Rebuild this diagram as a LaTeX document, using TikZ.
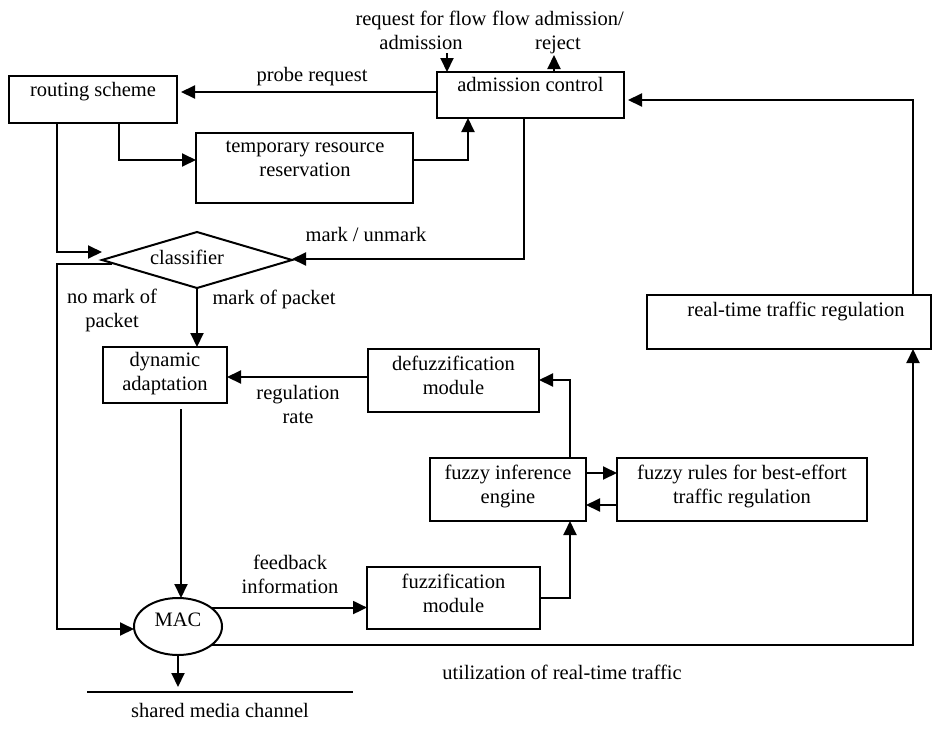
\documentclass[tikz,border=0pt]{standalone}
\usepackage{fontspec}
\setmainfont{Liberation Serif}
\usetikzlibrary{arrows.meta,shapes.geometric}
\begin{document}
\begin{tikzpicture}[x=1pt,y=-1pt,
  every node/.style={inner sep=0pt, outer sep=0pt},
  box/.style={draw, line width=2pt, rectangle},
  lbl/.style={font=\fontsize{20.5}{24}\selectfont, align=center},
  wire/.style={line width=2pt},
  arr/.style={wire, -{Triangle[length=14pt,width=13pt]}},
]
\useasboundingbox (0,0) rectangle (932,734);

% boxes
\node[box, minimum width=168pt, minimum height=47pt] (rs) at (93,99.5) {};
\node[lbl] (rsT) at (93,92) {\strut routing scheme};
\node[box, minimum width=187pt, minimum height=46pt] (adm) at (530.5,95) {};
\node[lbl] (admT) at (530.5,87) {\strut admission control};
\node[box, minimum width=217pt, minimum height=70pt] (trr) at (304.5,168) {};
\node[lbl] (trrT) at (305,160) {\strut temporary resource\\\strut reservation};
\node[draw, diamond, line width=2pt, minimum width=190pt, minimum height=56pt] (cls) at (197,260) {};
\node[lbl] (clsT) at (187,260) {\strut classifier};
\node[box, minimum width=124pt, minimum height=56pt] (dyn) at (165,375) {};
\node[lbl] (dynT) at (165,373.5) {\strut dynamic\\\strut adaptation};
\node[box, minimum width=171pt, minimum height=63pt] (def) at (453.5,380.5) {};
\node[lbl] (defT) at (453.5,378) {\strut defuzzification\\\strut module};
\node[box, minimum width=156pt, minimum height=63pt] (fie) at (508,489.5) {};
\node[lbl] (fieT) at (508,487) {\strut fuzzy inference\\\strut engine};
\node[box, minimum width=250pt, minimum height=63pt] (fr) at (742,489.5) {};
\node[lbl] (frT) at (742,487) {\strut fuzzy rules for best-effort\\\strut traffic regulation};
\node[box, minimum width=173pt, minimum height=62pt] (fuz) at (453.5,598) {};
\node[lbl] (fuzT) at (453.5,595.5) {\strut fuzzification\\\strut module};
\node[box, minimum width=284pt, minimum height=54pt] (rt) at (789,322) {};
\node[lbl] (rtT) at (796,312) {\strut real-time traffic regulation};
\node[draw, ellipse, line width=2pt, minimum width=88pt, minimum height=57pt] (mac) at (178,626.5) {};
\node[lbl] (macT) at (178,622) {\strut MAC};

% labels
\node[lbl] (reqT) at (421,32.5) {\strut request for flow\\\strut admission};
\node[lbl] (rejT) at (558,32.5) {\strut flow admission/\\\strut reject};
\node[lbl] (prT) at (312,77) {\strut probe request};
\node[lbl] (muT) at (366,237) {\strut mark / unmark};
\node[lbl] (mpT) at (274,300) {\strut mark of packet};
\node[lbl] (nmT) at (112,310.5) {\strut no mark of\\\strut packet};
\node[lbl] (rrT) at (298,406.5) {\strut regulation\\\strut rate};
\node[lbl] (fbT) at (290,577) {\strut feedback\\\strut information};
\node[lbl] (utT) at (562,675) {\strut utilization of real-time traffic};
\node[lbl] (smT) at (220,713) {\strut shared media channel};

% coordinates
\coordinate (sm1) at (87,692);
\coordinate (sm2) at (353,692);
\coordinate (rq) at (447,53);
\coordinate (rj) at (554,55);
\coordinate (nm) at (57,264);
\coordinate (dd) at ([xshift=16pt]dyn.south);

% connectors
\draw[arr, shorten >=4pt] ([yshift=3pt]adm.west) -- ([yshift=7.5pt]rs.east);
\draw[arr] ([xshift=48pt]rs.south west) |- ([yshift=8pt]cls.west);
\draw[arr] ([xshift=110pt]rs.south west) |- ([yshift=8pt]trr.west);
\draw[arr] ([yshift=8pt]trr.east) -| ([xshift=-62.5pt]adm.south);
\draw[arr] ([xshift=-6.5pt]adm.south) |- ([yshift=1pt]cls.east);
\draw[arr] (cls.south) -- ([xshift=32pt]dyn.north);
\draw[arr] ([xshift=10pt,yshift=-4pt]cls.west) -- (nm) |- ([yshift=-2.5pt]mac.west);
\draw[arr, shorten <=6pt] (dd) -- (dd |- mac.north);
\draw[arr] ([yshift=3.5pt]def.west) -- ([yshift=-2pt]dyn.east);
\draw[arr] ([xshift=62pt]fie.north) |- ([yshift=0.5pt]def.east);
\draw[arr] ([yshift=16.5pt]fie.east) -- ([yshift=16.5pt]fr.west);
\draw[arr] ([yshift=-15.5pt]fr.west) -- ([yshift=-15.5pt]fie.east);
\draw[arr] (fuz.east) -| ([xshift=62pt]fie.south);
\draw[arr] (mac.30) -- (mac.30 -| fuz.west);
\draw[arr] (mac.-30) -| ([xshift=124pt]rt.south);
\draw[arr, shorten >=4pt] ([xshift=124pt]rt.north) |- ([yshift=-5pt]adm.east);
\draw[arr, shorten >=5pt] (mac.south) -- (mac.south |- sm1);
\draw[wire] (sm1) -- (sm2);
\draw[arr] (rq) -- (rq |- adm.north);
\draw[arr] (rj |- adm.north) -- (rj);
\end{tikzpicture}
\end{document}
